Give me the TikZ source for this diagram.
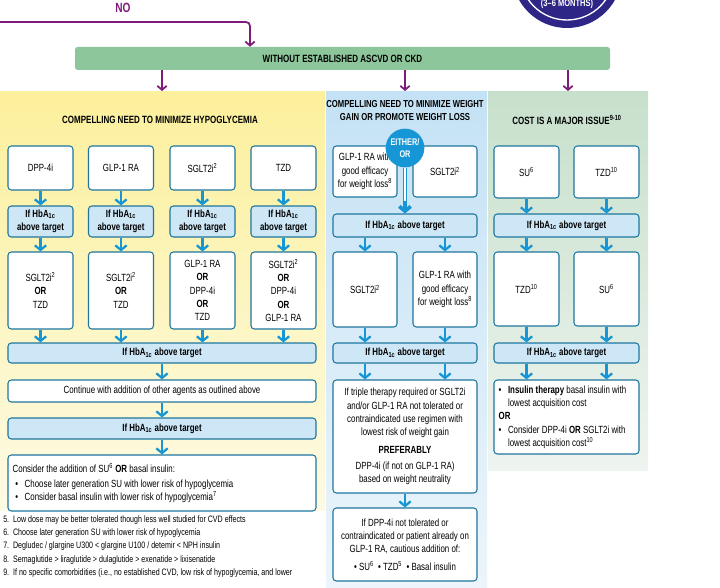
\documentclass[tikz,border=0pt]{standalone}
\usepackage{fontspec}
\setmainfont{Liberation Sans}[FakeStretch=0.76]
\usetikzlibrary{arrows.meta}

\definecolor{NoPurple}{RGB}{125,27,120}
\definecolor{BadgeNavy}{RGB}{45,38,135}
\definecolor{BarGreen}{RGB}{141,198,154}
\definecolor{YellowTop}{RGB}{252,240,156}
\definecolor{YellowBot}{RGB}{253,250,228}
\definecolor{BlueTop}{RGB}{196,226,245}
\definecolor{BlueBot}{RGB}{236,245,251}
\definecolor{GreenTop}{RGB}{199,224,204}
\definecolor{GreenBot}{RGB}{238,244,239}
\definecolor{BoxLine}{RGB}{30,118,158}
\definecolor{HbFill}{RGB}{206,231,247}
\definecolor{ArrowBlue}{RGB}{22,150,212}

\newcommand{\BoxFont}{\fontsize{7.8}{10}\selectfont}
\newcommand{\HeadFont}{\bfseries\fontsize{7.9}{9.8}\selectfont}
\newcommand{\NoteFont}{\fontsize{7}{10.1}\selectfont}
\newcommand{\HbAc}{HbA\textsubscript{1c}}
\newcommand{\Bul}{\makebox[7pt][l]{\textbullet}}

\begin{document}
\begin{tikzpicture}[x=0.75pt,y=-0.75pt]
\clip (0,0) rectangle (720,588);
\fill[white] (0,0) rectangle (720,588);

\shade[top color=YellowTop, bottom color=YellowBot] (0,92) rectangle (325,510);
\shade[top color=BlueTop, bottom color=BlueBot] (326,92) rectangle (487,588);
\shade[top color=GreenTop, bottom color=GreenBot] (488,92) rectangle (648,470);

\coordinate (NoStart) at (0,22);
\coordinate (NoTurn) at (250,22);
\coordinate (HypoTop) at (162,91);
\coordinate (WeightTop) at (405,91);
\coordinate (CostTop) at (568,91);

\tikzset{PurpleArrow/.style = {draw=NoPurple, line width=1.3pt,
 -{Straight Barb[length=3pt,width=7pt]}} }
\tikzset{FlowArrow/.style = {draw=ArrowBlue, line width=1.7pt,
 -{Straight Barb[length=3.5pt,width=8.5pt]}} }
\tikzset{BoxStyle/.style 2 args = {
 draw = BoxLine,
 fill = white,
 line width = 0.8pt,
 rounded corners = 2.5pt,
 align = center,
 inner sep = 1pt,
 minimum width = #1,
 minimum height = #2,
 font = \BoxFont} }
\tikzset{HbStyle/.style 2 args = {BoxStyle={#1}{#2}, fill=HbFill, font=\bfseries\BoxFont} }
\tikzset{LeftBoxStyle/.style 2 args = {BoxStyle={#1}{#2}, align=flush left,
 inner xsep=3.5pt, text width=#1-7pt} }
\tikzset{HeadStyle/.style = {font=\HeadFont, align=center, inner sep=0pt} }

\node[circle, fill=BadgeNavy, minimum size=82.5pt, inner sep=0pt] (Badge) at (567,-27) {};
\draw[white, line width=1pt] (Badge.center) circle[radius=47];
\node[text=white, font=\bfseries\fontsize{7.4}{8}\selectfont] (Months) at (567,4) {(3--6 MONTHS)};

\node[text=NoPurple, font=\bfseries\fontsize{10}{11}\selectfont] (No) at (123,8) {NO};
\node[fill=BarGreen, rounded corners=2pt, minimum width=401.25pt, minimum height=17.25pt,
 font=\HeadFont] (Ascvd) at (342.5,58.5) {WITHOUT ESTABLISHED ASCVD OR CKD};

\draw[PurpleArrow, rounded corners=3pt] (NoStart) -- (NoTurn) -- (NoTurn |- Ascvd.north);
\draw[PurpleArrow] (Ascvd.south -| HypoTop) -- (HypoTop);
\draw[PurpleArrow] (Ascvd.south -| WeightTop) -- (WeightTop);
\draw[PurpleArrow] (Ascvd.south -| CostTop) -- (CostTop);

\node[HeadStyle] (HypoHead) at (160,120) {COMPELLING NEED TO MINIMIZE HYPOGLYCEMIA};
\node[HeadStyle, font=\bfseries\fontsize{7.6}{9.8}\selectfont] (WeightHead) at (405,110.5) {COMPELLING NEED TO MINIMIZE WEIGHT\\GAIN OR PROMOTE WEIGHT LOSS};
\node[HeadStyle] (CostHead) at (567,120) {COST IS A MAJOR ISSUE\textsuperscript{9-10}};

\node[BoxStyle={48.75pt}{33pt}] (Dpp) at (40.5,168) {DPP-4i};
\node[BoxStyle={48.75pt}{33pt}] (Glp) at (121,168) {GLP-1 RA};
\node[BoxStyle={48.75pt}{33pt}] (Sglt) at (202.5,168) {SGLT2i\textsuperscript{2}};
\node[BoxStyle={48.75pt}{33pt}] (Tzd) at (283.5,168) {TZD};

\node[HbStyle={48.75pt}{23.25pt}] (HbL1) at (40.5,221.5) {If \HbAc\\above target};
\node[HbStyle={48.75pt}{23.25pt}] (HbL2) at (121,221.5) {If \HbAc\\above target};
\node[HbStyle={48.75pt}{23.25pt}] (HbL3) at (202.5,221.5) {If \HbAc\\above target};
\node[HbStyle={48.75pt}{23.25pt}] (HbL4) at (283.5,221.5) {If \HbAc\\above target};

\node[BoxStyle={48.75pt}{57.75pt}] (Alt1) at (40.5,290.5) {SGLT2i\textsuperscript{2}\\\textbf{OR}\\TZD};
\node[BoxStyle={48.75pt}{57.75pt}] (Alt2) at (121,290.5) {SGLT2i\textsuperscript{2}\\\textbf{OR}\\TZD};
\node[BoxStyle={48.75pt}{57.75pt}] (Alt3) at (202.5,290.5) {GLP-1 RA\\\textbf{OR}\\DPP-4i\\\textbf{OR}\\TZD};
\node[BoxStyle={48.75pt}{57.75pt}] (Alt4) at (283.5,290.5) {SGLT2i\textsuperscript{2}\\\textbf{OR}\\DPP-4i\\\textbf{OR}\\GLP-1 RA};

\node[HbStyle={231pt}{15pt}] (HbLw) at (162,353) {If \HbAc{} above target};
\node[BoxStyle={231pt}{16.5pt}] (Cont) at (162,391) {Continue with addition of other agents as outlined above};
\node[HbStyle={231pt}{15.75pt}] (HbLw2) at (162,428.5) {If \HbAc{} above target};
\node[LeftBoxStyle={231pt}{42pt}] (Consider) at (162,483) {Consider the addition of SU\textsuperscript{6} \textbf{OR} basal insulin:\\[1pt]
 \hspace*{2pt}\Bul Choose later generation SU with lower risk of hypoglycemia\\
 \hspace*{2pt}\Bul Consider basal insulin with lower risk of hypoglycemia\textsuperscript{7}};

\node[BoxStyle={48pt}{38.25pt}] (MGlp) at (365,171.5) {GLP-1 RA with\\good efficacy\\for weight loss\textsuperscript{8}};
\node[BoxStyle={48pt}{38.25pt}] (MSglt) at (445,171.5) {SGLT2i\textsuperscript{2}};
\node[HbStyle={108pt}{17.25pt}] (HbM1) at (405,225.5) {If \HbAc{} above target};
\node[BoxStyle={48pt}{56.25pt}] (MSglt2) at (365,289.5) {SGLT2i\textsuperscript{2}};
\node[BoxStyle={48pt}{56.25pt}] (MGlp2) at (445,289.5) {GLP-1 RA with\\good efficacy\\for weight loss\textsuperscript{8}};
\node[HbStyle={108pt}{15pt}] (HbM2) at (405,353) {If \HbAc{} above target};
\node[BoxStyle={108pt}{84.75pt}] (Triple) at (405,436.5) {If triple therapy required or SGLT2i\\and/or GLP-1 RA not tolerated or\\contraindicated use regimen with\\lowest risk of weight gain\\[3pt]
 \textbf{PREFERABLY}\\[2pt]DPP-4i (if not on GLP-1 RA)\\based on weight neutrality};
\node[BoxStyle={108pt}{54.75pt}] (DppNot) at (405,544.5) {If DPP-4i not tolerated or\\contraindicated or patient already on\\GLP-1 RA, cautious addition of:\\[3pt]
 \textbullet~SU\textsuperscript{6}~~\textbullet~TZD\textsuperscript{5}~~\textbullet~Basal insulin};

\node[circle, fill=ArrowBlue, text=white, minimum size=29pt, inner sep=0pt, align=center,
 font=\bfseries\fontsize{7.2}{8.8}\selectfont] (Either) at (405,148) {EITHER/\\OR};

\node[BoxStyle={48.75pt}{39pt}] (RSu) at (526.5,172) {SU\textsuperscript{6}};
\node[BoxStyle={48.75pt}{39pt}] (RTzd) at (606.5,172) {TZD\textsuperscript{10}};
\node[HbStyle={108.75pt}{17.25pt}] (HbR1) at (566.5,225.5) {If \HbAc{} above target};
\node[BoxStyle={48.75pt}{55.5pt}] (RTzd2) at (526.5,289) {TZD\textsuperscript{10}};
\node[BoxStyle={48.75pt}{55.5pt}] (RSu2) at (606.5,289) {SU\textsuperscript{6}};
\node[HbStyle={108.75pt}{15pt}] (HbR2) at (566.5,353) {If \HbAc{} above target};
\node[LeftBoxStyle={108.75pt}{55.5pt}] (Insul) at (566.5,417) {\Bul\textbf{Insulin therapy} basal insulin with\\
 \hspace*{7pt}lowest acquisition cost\\\textbf{OR}\\
 \Bul Consider DPP-4i \textbf{OR} SGLT2i with\\
 \hspace*{7pt}lowest acquisition cost\textsuperscript{10}};

\node[anchor=north west, align=left, inner sep=0pt, font=\NoteFont] (Notes) at (3,515) {5.~~Low dose may be better tolerated though less well studied for CVD effects\\
6.~~Choose later generation SU with lower risk of hypoglycemia\\
7.~~Degludec / glargine U300 < glargine U100 / detemir < NPH insulin\\
8.~~Semaglutide > liraglutide > dulaglutide > exenatide > lixisenatide\\
9.~~If no specific comorbidities (i.e., no established CVD, low risk of hypoglycemia, and lower};

\draw[FlowArrow] (Dpp) -- (HbL1);
\draw[FlowArrow] (Glp) -- (HbL2);
\draw[FlowArrow] (Sglt) -- (HbL3);
\draw[FlowArrow] (Tzd) -- (HbL4);
\draw[FlowArrow] (HbL1) -- (Alt1);
\draw[FlowArrow] (HbL2) -- (Alt2);
\draw[FlowArrow] (HbL3) -- (Alt3);
\draw[FlowArrow] (HbL4) -- (Alt4);
\draw[FlowArrow] (Alt1) -- (Alt1 |- HbLw.north);
\draw[FlowArrow] (Alt2) -- (Alt2 |- HbLw.north);
\draw[FlowArrow] (Alt3) -- (Alt3 |- HbLw.north);
\draw[FlowArrow] (Alt4) -- (Alt4 |- HbLw.north);
\draw[FlowArrow] (HbLw) -- (Cont);
\draw[FlowArrow] (Cont) -- (HbLw2);
\draw[FlowArrow] (HbLw2) -- (Consider);

\draw[FlowArrow, line width=2.8pt] (Either) -- (HbM1);
\draw[white, line width=0.8pt, shorten >=9pt] (Either) -- (HbM1);
\draw[FlowArrow] (HbM1.south -| MSglt2) -- (MSglt2);
\draw[FlowArrow] (HbM1.south -| MGlp2) -- (MGlp2);
\draw[FlowArrow] (MSglt2) -- (MSglt2 |- HbM2.north);
\draw[FlowArrow] (MGlp2) -- (MGlp2 |- HbM2.north);
\draw[FlowArrow] (HbM2.south -| MSglt2) -- (MSglt2 |- Triple.north);
\draw[FlowArrow] (HbM2.south -| MGlp2) -- (MGlp2 |- Triple.north);
\draw[FlowArrow] (Triple) -- (DppNot);

\draw[FlowArrow] (RSu) -- (RSu |- HbR1.north);
\draw[FlowArrow] (RTzd) -- (RTzd |- HbR1.north);
\draw[FlowArrow] (HbR1.south -| RTzd2) -- (RTzd2);
\draw[FlowArrow] (HbR1.south -| RSu2) -- (RSu2);
\draw[FlowArrow] (RTzd2) -- (RTzd2 |- HbR2.north);
\draw[FlowArrow] (RSu2) -- (RSu2 |- HbR2.north);
\draw[FlowArrow] (HbR2.south -| RTzd2) -- (RTzd2 |- Insul.north);
\draw[FlowArrow] (HbR2.south -| RSu2) -- (RSu2 |- Insul.north);

\end{tikzpicture}
\end{document}
